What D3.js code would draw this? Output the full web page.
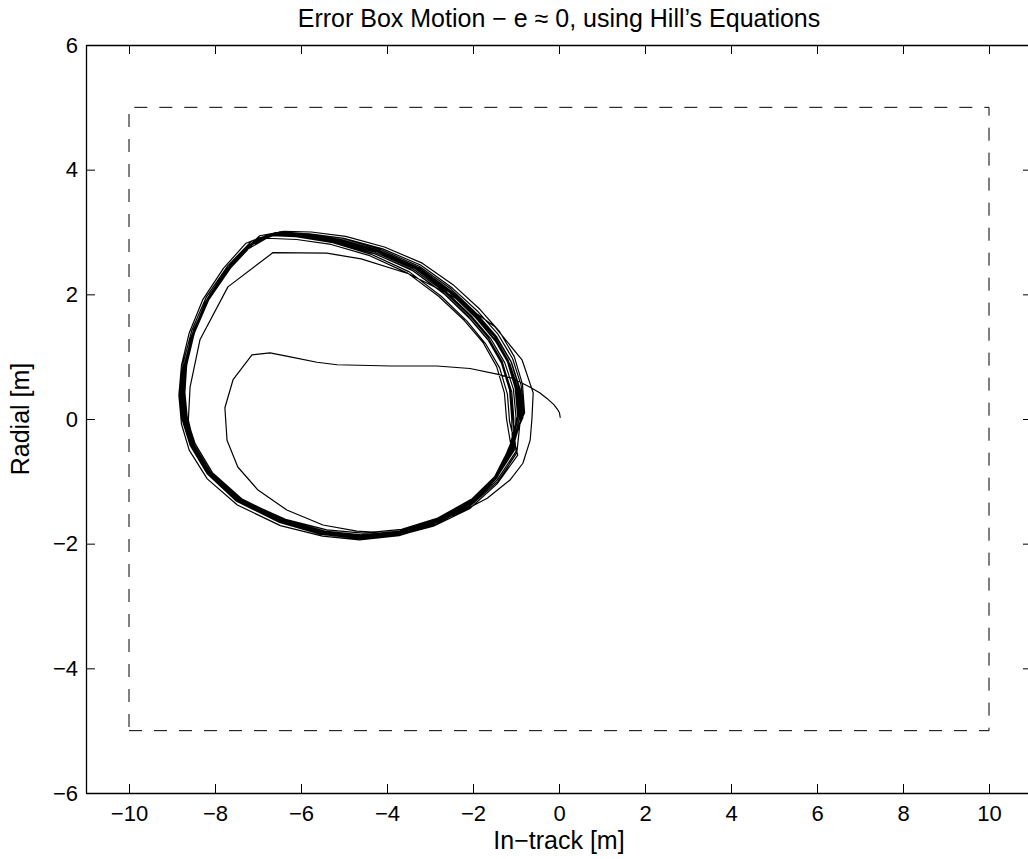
<!DOCTYPE html>
<html>
<head>
<meta charset="utf-8">
<script src="https://cdn.jsdelivr.net/npm/d3@7/dist/d3.min.js"></script>
<style>
  html, body { margin: 0; padding: 0; background: #fff; }
  svg { display: block; }
  text { font-family: "Liberation Sans", Arial, Helvetica, sans-serif; fill: #000; }
</style>
</head>
<body>
<svg id="chart" width="1028" height="859"></svg>
<script>
// ---- Data ----
const titleText = "Error Box Motion \u2212 e \u2248 0, using Hill\u2019s Equations";
const xLabel = "In\u2212track [m]";
const yLabel = "Radial [m]";
const xDomain = [-11, 11];
const yDomain = [-6, 6];
const xTicks = [-10, -8, -6, -4, -2, 0, 2, 4, 6, 8, 10];
const yTicks = [-6, -4, -2, 0, 2, 4, 6];
// error box corners (in-track, radial)
const boxX = [-10, 10, 10, -10, -10];
const boxY = [-5, -5, 5, 5, -5];

// trajectory: initial transient, then repeated loops
const initialPath = [
  [0.03,0.02],[0.01,0.1],[-0.04,0.16],[-0.12,0.23],[-0.28,0.33],[-0.45,0.42],[-0.67,0.51],
  [-1.07,0.65],[-1.44,0.72],[-2.07,0.81],[-2.84,0.85],[-3.9,0.85],[-5.16,0.87],[-5.63,0.91],
  [-6.19,0.99],[-6.72,1.06],[-7.14,1.03],[-7.58,0.63],[-7.77,0.18],[-7.72,-0.34],[-7.47,-0.77],
  [-7.0,-1.14],[-6.33,-1.46],[-5.49,-1.7],[-4.7,-1.8],[-3.8,-1.84],[-3.0,-1.7],[-2.3,-1.5],
  [-1.67,-1.27],[-1.14,-0.98],[-0.84,-0.71],[-0.67,-0.34],[-0.63,0.0],[-0.6,0.42],[-0.86,0.95],
  [-1.49,1.48],[-2.5,1.98],[-3.5,2.33],[-4.6,2.57],[-5.4,2.66],[-6.65,2.67],[-7.7,2.12],
  [-8.35,1.27],[-8.58,0.51],[-8.62,-0.02],[-8.48,-0.42],[-8.08,-0.88],[-7.4,-1.3],[-6.4,-1.64],
  [-5.45,-1.82],[-4.6,-1.87],[-3.7,-1.81],[-2.86,-1.63],[-2.06,-1.33],[-1.48,-0.95],[-1.1,-0.5]
];
const loop1 = [[-0.92,0.02],[-0.98,0.48],[-1.18,0.9],[-1.5,1.28],[-1.95,1.65],[-2.55,2.04],[-3.3,2.42],[-4.2,2.7],[-5.1,2.87],[-5.9,2.95],[-6.55,2.98],[-7.1,2.84],[-7.66,2.44],[-8.16,1.94],[-8.5,1.4],[-8.68,0.88],[-8.74,0.42],[-8.68,-0.02],[-8.5,-0.4],[-8.1,-0.86],[-7.42,-1.28],[-6.42,-1.62],[-5.48,-1.8],[-4.62,-1.86],[-3.72,-1.8],[-2.88,-1.62],[-2.08,-1.32],[-1.5,-0.94],[-1.12,-0.48]];
const loop2 = [[-0.86,0.05],[-0.93,0.5],[-1.12,0.93],[-1.45,1.32],[-1.9,1.68],[-2.5,2.08],[-3.25,2.45],[-4.15,2.72],[-5.05,2.9],[-5.85,2.97],[-6.5,3.0],[-7.05,2.88],[-7.62,2.5],[-8.12,2.0],[-8.48,1.45],[-8.7,0.92],[-8.78,0.46],[-8.74,0.0],[-8.56,-0.4],[-8.16,-0.86],[-7.48,-1.3],[-6.48,-1.64],[-5.52,-1.85],[-4.66,-1.92],[-3.76,-1.86],[-2.9,-1.68],[-2.08,-1.38],[-1.48,-0.97],[-1.06,-0.5]];
const loop3 = [[-1.05,0.0],[-1.1,0.44],[-1.3,0.86],[-1.62,1.24],[-2.06,1.6],[-2.66,2.0],[-3.4,2.38],[-4.28,2.65],[-5.18,2.83],[-6.0,2.92],[-6.66,2.94],[-7.2,2.78],[-7.74,2.38],[-8.22,1.88],[-8.54,1.34],[-8.7,0.84],[-8.74,0.38],[-8.66,-0.08],[-8.46,-0.46],[-8.06,-0.9],[-7.36,-1.3],[-6.36,-1.61],[-5.4,-1.78],[-4.56,-1.83],[-3.66,-1.77],[-2.82,-1.59],[-2.02,-1.28],[-1.46,-0.9],[-1.14,-0.46]];
const loop4 = [[-0.82,0.08],[-0.88,0.54],[-1.08,0.97],[-1.42,1.36],[-1.88,1.72],[-2.48,2.1],[-3.22,2.47],[-4.1,2.73],[-5.0,2.9],[-5.8,2.97],[-6.45,2.99],[-7.02,2.9],[-7.58,2.52],[-8.08,2.04],[-8.44,1.5],[-8.64,0.98],[-8.72,0.5],[-8.7,0.04],[-8.54,-0.36],[-8.14,-0.84],[-7.46,-1.28],[-6.46,-1.62],[-5.5,-1.81],[-4.64,-1.88],[-3.74,-1.83],[-2.86,-1.66],[-2.04,-1.38],[-1.42,-1.0],[-0.98,-0.54]];
const loop5 = [[-0.9,-0.02],[-0.95,0.42],[-1.14,0.85],[-1.47,1.24],[-1.93,1.62],[-2.53,2.02],[-3.28,2.4],[-4.18,2.68],[-5.08,2.86],[-5.9,2.94],[-6.58,2.97],[-7.12,2.83],[-7.68,2.43],[-8.18,1.93],[-8.52,1.38],[-8.72,0.86],[-8.8,0.4],[-8.74,-0.05],[-8.56,-0.44],[-8.14,-0.9],[-7.44,-1.33],[-6.44,-1.66],[-5.48,-1.84],[-4.62,-1.89],[-3.7,-1.83],[-2.84,-1.65],[-2.04,-1.35],[-1.46,-0.96],[-1.08,-0.5]];
const loop6 = [[-1.1,0.02],[-1.15,0.47],[-1.34,0.9],[-1.66,1.28],[-2.1,1.64],[-2.7,2.03],[-3.44,2.4],[-4.32,2.66],[-5.22,2.84],[-6.04,2.92],[-6.7,2.95],[-7.24,2.76],[-7.78,2.34],[-8.24,1.84],[-8.56,1.3],[-8.72,0.8],[-8.76,0.36],[-8.7,-0.1],[-8.5,-0.48],[-8.08,-0.92],[-7.38,-1.34],[-6.38,-1.66],[-5.42,-1.83],[-4.58,-1.88],[-3.68,-1.82],[-2.84,-1.64],[-2.04,-1.34],[-1.5,-0.93],[-1.16,-0.47]];
const loop7 = [[-0.96,0.04],[-1.02,0.5],[-1.2,0.92],[-1.52,1.3],[-1.97,1.67],[-2.57,2.06],[-3.32,2.44],[-4.22,2.7],[-5.12,2.88],[-5.92,2.96],[-6.6,2.99],[-7.14,2.86],[-7.7,2.46],[-8.2,1.96],[-8.54,1.42],[-8.74,0.9],[-8.82,0.44],[-8.76,-0.02],[-8.58,-0.42],[-8.18,-0.88],[-7.5,-1.32],[-6.5,-1.66],[-5.54,-1.85],[-4.68,-1.9],[-3.78,-1.85],[-2.92,-1.67],[-2.1,-1.37],[-1.52,-0.98],[-1.1,-0.52]];
const loop8 = [[-0.88,0.0],[-0.94,0.46],[-1.14,0.88],[-1.48,1.27],[-1.94,1.64],[-2.54,2.03],[-3.3,2.41],[-4.2,2.68],[-5.1,2.86],[-5.92,2.94],[-6.56,2.97],[-7.1,2.82],[-7.64,2.42],[-8.14,1.92],[-8.48,1.38],[-8.66,0.86],[-8.72,0.4],[-8.66,-0.04],[-8.48,-0.42],[-8.08,-0.88],[-7.4,-1.3],[-6.4,-1.63],[-5.46,-1.81],[-4.6,-1.87],[-3.7,-1.81],[-2.86,-1.63],[-2.06,-1.33],[-1.46,-0.95],[-1.04,-0.5]];
const loop9 = [[-1.0,0.03],[-1.06,0.48],[-1.26,0.9],[-1.58,1.28],[-2.02,1.64],[-2.62,2.04],[-3.36,2.42],[-4.26,2.69],[-5.16,2.86],[-5.98,2.94],[-6.64,2.96],[-7.18,2.8],[-7.72,2.4],[-8.2,1.9],[-8.5,1.36],[-8.66,0.86],[-8.7,0.42],[-8.64,-0.02],[-8.46,-0.4],[-8.06,-0.86],[-7.38,-1.28],[-6.38,-1.62],[-5.44,-1.8],[-4.6,-1.86],[-3.7,-1.8],[-2.86,-1.62],[-2.06,-1.32],[-1.5,-0.93],[-1.12,-0.47]];
const loop10 = [[-0.94,0.06],[-1.0,0.52],[-1.18,0.94],[-1.5,1.32],[-1.96,1.68],[-2.56,2.07],[-3.3,2.44],[-4.2,2.71],[-5.1,2.88],[-5.9,2.96],[-6.54,2.99],[-7.08,2.86],[-7.64,2.47],[-8.14,1.97],[-8.5,1.43],[-8.7,0.9],[-8.76,0.44],[-8.72,0.0],[-8.54,-0.39],[-8.14,-0.85],[-7.46,-1.29],[-6.46,-1.63],[-5.5,-1.82],[-4.64,-1.88],[-3.74,-1.82],[-2.88,-1.64],[-2.08,-1.34],[-1.5,-0.95],[-1.1,-0.5]];
const loop11 = [[-1.22,0.0],[-1.27,0.42],[-1.45,0.84],[-1.76,1.22],[-2.2,1.58],[-2.8,1.97],[-3.52,2.34],[-4.4,2.62],[-5.3,2.8],[-6.1,2.88],[-6.8,2.9],[-7.3,2.7],[-7.82,2.28],[-8.26,1.78],[-8.56,1.24],[-8.7,0.74],[-8.72,0.3],[-8.64,-0.14],[-8.42,-0.52],[-8.0,-0.96],[-7.3,-1.36],[-6.3,-1.67],[-5.36,-1.83],[-4.52,-1.88],[-3.62,-1.82],[-2.78,-1.64],[-1.98,-1.34],[-1.44,-0.94],[-1.18,-0.48]];
const loop12 = [[-0.8,0.1],[-0.85,0.56],[-1.04,1.0],[-1.38,1.4],[-1.84,1.76],[-2.44,2.14],[-3.18,2.5],[-4.06,2.76],[-4.96,2.93],[-5.76,3.0],[-6.4,3.01],[-6.96,2.94],[-7.52,2.58],[-8.02,2.1],[-8.4,1.56],[-8.62,1.04],[-8.72,0.56],[-8.72,0.1],[-8.58,-0.32],[-8.2,-0.8],[-7.54,-1.26],[-6.54,-1.62],[-5.58,-1.83],[-4.7,-1.92],[-3.8,-1.88],[-2.92,-1.72],[-2.08,-1.44],[-1.44,-1.04],[-0.96,-0.58]];
const loop13 = [[-1.15,-0.04],[-1.2,0.4],[-1.38,0.82],[-1.7,1.2],[-2.14,1.57],[-2.74,1.97],[-3.48,2.36],[-4.36,2.64],[-5.26,2.83],[-6.08,2.92],[-6.74,2.96],[-7.28,2.82],[-7.8,2.42],[-8.28,1.92],[-8.6,1.38],[-8.78,0.86],[-8.84,0.38],[-8.78,-0.08],[-8.6,-0.5],[-8.18,-0.96],[-7.48,-1.38],[-6.48,-1.71],[-5.5,-1.88],[-4.64,-1.94],[-3.72,-1.87],[-2.86,-1.69],[-2.06,-1.39],[-1.52,-0.98],[-1.2,-0.52]];
const loop14 = [[-0.84,0.02],[-0.9,0.47],[-1.1,0.9],[-1.44,1.29],[-1.9,1.66],[-2.5,2.05],[-3.26,2.43],[-4.16,2.7],[-5.06,2.88],[-5.86,2.96],[-6.5,2.98],[-7.04,2.86],[-7.6,2.48],[-8.1,1.98],[-8.46,1.44],[-8.66,0.92],[-8.74,0.46],[-8.7,0.0],[-8.52,-0.4],[-8.12,-0.86],[-7.44,-1.3],[-6.44,-1.64],[-5.48,-1.83],[-4.62,-1.89],[-3.72,-1.83],[-2.86,-1.65],[-2.04,-1.36],[-1.44,-0.98],[-1.0,-0.52]];
const loop15 = [[-1.08,0.06],[-1.14,0.5],[-1.32,0.92],[-1.64,1.3],[-2.08,1.66],[-2.68,2.05],[-3.42,2.42],[-4.3,2.68],[-5.2,2.85],[-6.02,2.93],[-6.68,2.95],[-7.22,2.79],[-7.76,2.38],[-8.22,1.88],[-8.54,1.34],[-8.7,0.84],[-8.76,0.4],[-8.7,-0.04],[-8.52,-0.44],[-8.1,-0.9],[-7.4,-1.33],[-6.4,-1.66],[-5.44,-1.84],[-4.6,-1.9],[-3.7,-1.84],[-2.84,-1.66],[-2.04,-1.36],[-1.48,-0.96],[-1.12,-0.48],[-0.98,0.0]];

// ---- Layout ----
const plot = { left: 86, top: 45, right: 1032, bottom: 793 };
const TICK_FONT = 22;
const LABEL_FONT = 25;

const svg = d3.select("#chart");
const x = d3.scaleLinear().domain(xDomain).range([plot.left, plot.right]);
const y = d3.scaleLinear().domain(yDomain).range([plot.bottom, plot.top]);

// axes (ticks inward, all four sides)
const tickLen = 9;
const fmt = d3.format("d");
const gB = svg.append("g").attr("transform", `translate(0,${plot.bottom})`)
  .call(d3.axisBottom(x).tickValues(xTicks).tickSizeInner(-tickLen).tickSizeOuter(0).tickPadding(12).tickFormat(fmt));
const gT = svg.append("g").attr("transform", `translate(0,${plot.top})`)
  .call(d3.axisTop(x).tickValues(xTicks).tickSizeInner(-tickLen).tickSizeOuter(0).tickFormat(""));
const gL = svg.append("g").attr("transform", `translate(${plot.left},0)`)
  .call(d3.axisLeft(y).tickValues(yTicks).tickSizeInner(-tickLen).tickSizeOuter(0).tickPadding(8).tickFormat(fmt));
const gR = svg.append("g").attr("transform", `translate(${plot.right},0)`)
  .call(d3.axisRight(y).tickValues(yTicks).tickSizeInner(-tickLen).tickSizeOuter(0).tickFormat(""));
[gB, gT, gL, gR].forEach(g => {
  g.selectAll(".domain").attr("stroke", "#000").attr("stroke-width", 1.3);
  g.selectAll(".tick line").attr("stroke", "#000").attr("stroke-width", 1);
  g.selectAll("text").attr("font-size", TICK_FONT).attr("font-family", "Liberation Sans, Arial, sans-serif").attr("fill", "#000");
});

// dashed error box
const boxPts = boxX.map((v, i) => [v, boxY[i]]);
svg.append("path")
  .attr("d", d3.line().x(d => x(d[0])).y(d => y(d[1]))(boxPts))
  .attr("fill", "none").attr("stroke", "#000").attr("stroke-width", 1)
  .attr("stroke-dasharray", "13,12");

// trajectory
const traj = [].concat(initialPath, loop1, loop2, loop3, loop4, loop5, loop6, loop7, loop8,
  loop9, loop10, loop11, loop12, loop13, loop14, loop15);
svg.append("path")
  .attr("d", d3.line().x(d => x(d[0])).y(d => y(d[1]))(traj))
  .attr("fill", "none").attr("stroke", "#000").attr("stroke-width", 1.2)
  .attr("stroke-linejoin", "round");

// labels
const cx = (plot.left + plot.right) / 2;
svg.append("text").attr("x", cx).attr("y", 27).attr("text-anchor", "middle")
  .attr("font-size", LABEL_FONT).text(titleText);
svg.append("text").attr("x", cx).attr("y", 849).attr("text-anchor", "middle")
  .attr("font-size", LABEL_FONT).text(xLabel);
svg.append("text").attr("transform", `translate(29,${(plot.top + plot.bottom) / 2}) rotate(-90)`)
  .attr("text-anchor", "middle").attr("font-size", LABEL_FONT).text(yLabel);
</script>
</body>
</html>
